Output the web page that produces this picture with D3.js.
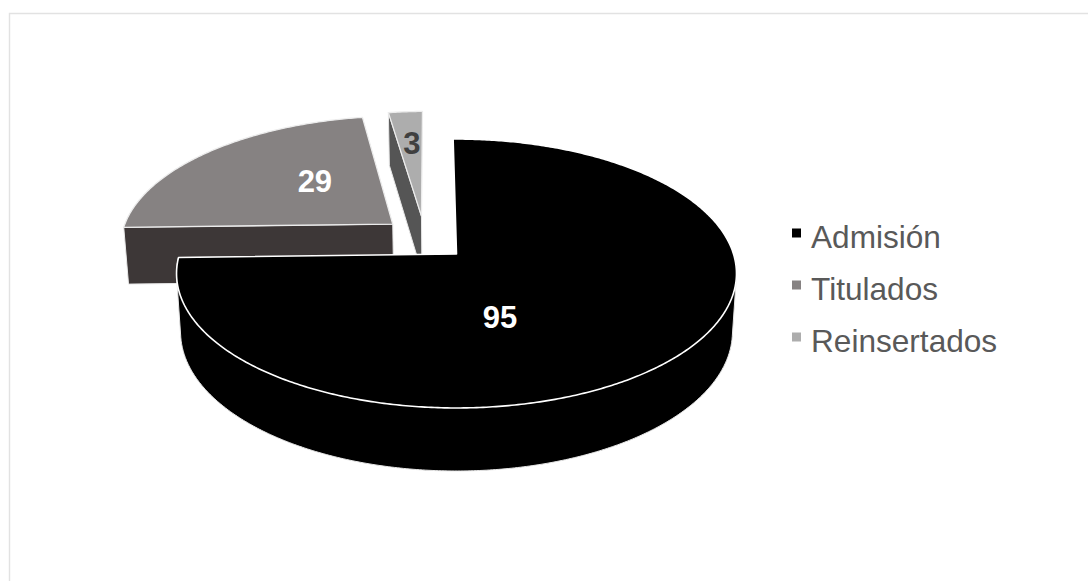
<!DOCTYPE html>
<html><head><meta charset="utf-8">
<script src="https://cdn.jsdelivr.net/npm/d3@7"></script>
<style>html,body{margin:0;padding:0;background:#fff}svg{display:block}text{font-family:"Liberation Sans",Arial,sans-serif}</style>
</head><body><svg id="c" width="1088" height="581"></svg>
<script>
const categories = ["Admisión","Titulados","Reinsertados"];
const values = [95,29,3];
const topColors = ["#000000","#868282","#adadad"];
const wallColors = ["#000000","#3d3737","#555555"];
const labelColors = ["#ffffff","#ffffff","#404040"];

const svg = d3.select("#c");
// frame
svg.append("path").attr("d","M9.5 581V13.5H1088").attr("fill","none").attr("stroke","#e2e2e2").attr("stroke-width",1.4);

const explode = [[0,0],[-0.238,-0.235],[-0.132,-0.30]];
const radius = [1,1,0.985];
const persp = -0.145;
const cx = 456.5;
const top_ = {R:277, a:94.8, b:254};
const bot_ = {R:273, a:91, b:311.7};
const project = (u,v,p)=>{const d=1+persp*v;return [cx+p.R*u/d,(p.a*v+p.b)/d];};

const rot = -0.8*Math.PI/180;
const arcs = d3.pie().sort(null).startAngle(rot).endAngle(2*Math.PI+rot)(values);

const line = d3.line();
function pts(i,p,a0,a1,withApex){
  const [u0,v0]=explode[i],r=radius[i];
  const n=Math.max(2,Math.ceil(Math.abs(a1-a0)/0.01));
  const out=d3.range(n+1).map(k=>{const t=a0+(a1-a0)*k/n;return project(u0+r*Math.sin(t),v0-r*Math.cos(t),p);});
  if(withApex) out.unshift(project(u0,v0,p));
  return out;
}
const g=svg.append("g");
// walls of the exploded slices: cut face on the slice's start angle
[1,2].forEach(i=>{
  const a=arcs[i].startAngle;
  const q=[...pts(i,top_,a,a,true).slice(0,2),...pts(i,bot_,a,a,true).slice(0,2).reverse()];
  g.append("path").attr("d",line(q)+"Z").attr("fill",wallColors[i]).attr("stroke","#e8e8e8").attr("stroke-width",1);
});
// tops of the exploded slices
[1,2].forEach(i=>{
  g.append("path").attr("d",line(pts(i,top_,arcs[i].startAngle,arcs[i].endAngle,true))+"Z")
   .attr("fill",topColors[i]).attr("stroke","#ececec").attr("stroke-width",1.3).attr("stroke-linejoin","round");
});
// main slice: wall silhouette is the hull of the front of both rims, then the top
const m=arcs[0];
const frontA=Math.PI/2;
const hull=d3.polygonHull([...pts(0,top_,frontA,m.endAngle,false),...pts(0,bot_,frontA,m.endAngle,false)]);
g.append("path").attr("d",line(hull)+"Z")
 .attr("fill",wallColors[0]).attr("stroke","#e6e6e6").attr("stroke-width",1);
g.append("path").attr("d",line(pts(0,top_,m.startAngle,m.endAngle,true))+"Z")
 .attr("fill",topColors[0]).attr("stroke","#ffffff").attr("stroke-width",1.6).attr("stroke-linejoin","round");

// data labels
const labelAt=[[0.147,0.454],[-0.556,-0.603],[-0.183,-0.951]];
values.forEach((v,i)=>{
  const p=project(labelAt[i][0],labelAt[i][1],top_);
  svg.append("text").attr("x",p[0]).attr("y",p[1]).attr("text-anchor","middle").attr("dominant-baseline","central")
    .attr("font-size",31).attr("font-weight","bold").attr("fill",labelColors[i]).text(v);
});
// legend
const ly=d3.scalePoint().domain(categories).range([248,352]);
categories.forEach((c,i)=>{
  svg.append("rect").attr("x",792).attr("y",ly(c)-19.5).attr("width",9).attr("height",9).attr("fill",i==0?"#000":topColors[i]);
  svg.append("text").attr("x",811).attr("y",ly(c)).attr("font-size",31.6).attr("fill","#595959").text(c);
});
</script></body></html>
